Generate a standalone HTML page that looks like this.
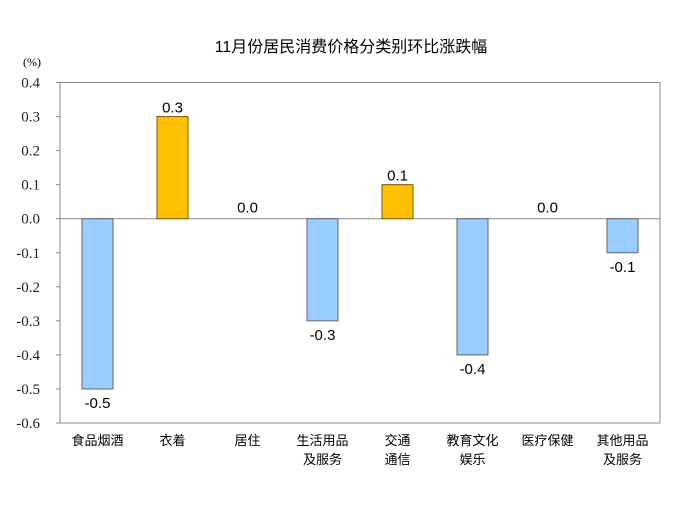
<!DOCTYPE html>
<html><head><meta charset="utf-8"><style>
body{margin:0;background:#fff;}
svg text{font-family:"Liberation Sans","Noto Sans CJK SC",sans-serif;}
</style></head><body>
<svg width="673" height="505" xmlns="http://www.w3.org/2000/svg">
<text x="351" y="52" text-anchor="middle" font-size="16" fill="#000">11月份居民消费价格分类别环比涨跌幅</text>
<text x="32" y="66" text-anchor="middle" font-size="12" style="font-family:'Liberation Serif',serif">(%)</text>
<rect x="60" y="82.5" width="600" height="340.5" fill="none" stroke="#888" stroke-width="1"/>
<g id="ticks"></g><g id="bars"></g><g id="xlabels"></g>
</svg>
<script>
const categories=[["食品烟酒"],["衣着"],["居住"],["生活用品","及服务"],["交通","通信"],["教育文化","娱乐"],["医疗保健"],["其他用品","及服务"]];
const values=[-0.5,0.3,0.0,-0.3,0.1,-0.4,0.0,-0.1];
const tickLabels=["0.4","0.3","0.2","0.1","0.0","-0.1","-0.2","-0.3","-0.4","-0.5","-0.6"];
const NS="http://www.w3.org/2000/svg";
const plotLeft=60,plotRight=660,plotTop=82.5,plotBottom=423,ymax=0.4,ymin=-0.6;
function yScale(v){return plotTop+(ymax-v)/(ymax-ymin)*(plotBottom-plotTop);}
function xScale(i){return plotLeft+(i+0.5)*(plotRight-plotLeft)/categories.length;}
function mk(t,a,p){const e=document.createElementNS(NS,t);for(const k in a)e.setAttribute(k,a[k]);p.appendChild(e);return e;}
const tg=document.getElementById('ticks');
tickLabels.forEach(s=>{const v=parseFloat(s);const yy=yScale(v);
const t=mk('text',{x:40,y:yy+5,'text-anchor':'end','font-size':15,fill:'#222',style:"font-family:'Liberation Serif',serif"},tg);


t.textContent=s;
const l=mk('line',{x1:plotLeft-4,x2:plotLeft,y1:yy,y2:yy,stroke:'#888'},tg);


});
const z=mk('line',{x1:plotLeft,x2:plotRight,y1:yScale(0),y2:yScale(0),stroke:'#888'},tg);


const bg=document.getElementById('bars'),xg=document.getElementById('xlabels');
const bw=31;
values.forEach((v,i)=>{
const cx=xScale(i);
if(v!==0){const pos=v>0;
const r=mk('rect',{x:cx-bw/2,y:Math.min(yScale(v),yScale(0)),width:bw,height:Math.abs(yScale(v)-yScale(0)),fill:pos?'#FFC000':'#99CCFF',stroke:pos?'#7a5c00':'#666','stroke-width':1},bg);

}
const ly=v>0?yScale(v)-4:(v<0?yScale(v)+19:yScale(0)-6);
const t=mk('text',{x:cx,y:ly,'text-anchor':'middle','font-size':15,fill:'#000'},bg);


t.textContent=v.toFixed(1);
categories[i].forEach((ln,j)=>{const c=mk('text',{x:cx,y:445+j*19,'text-anchor':'middle','font-size':13,fill:'#000'},xg);


c.textContent=ln;});
});
</script>
</body></html>
